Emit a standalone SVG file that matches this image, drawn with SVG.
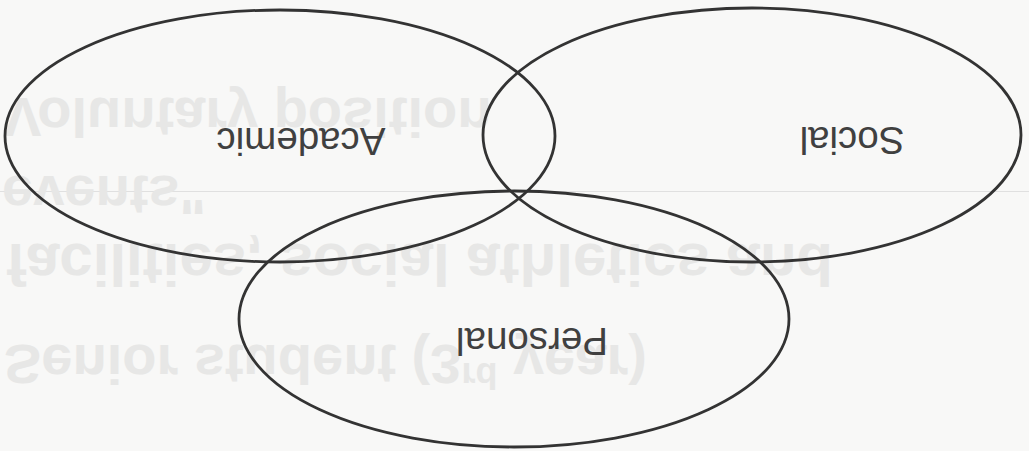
<svg xmlns="http://www.w3.org/2000/svg" width="1029" height="451" viewBox="0 0 1029 451">
  <style>
    .ring { fill: none; stroke: #333333; stroke-width: 2.8; }
    .label { font-family: "Liberation Sans", Arial, sans-serif; font-size: 38.5px; fill: #404040; text-anchor: middle; }
    .ghost { font-family: "Liberation Sans", Arial, sans-serif; font-weight: bold; fill: #e7e7e6; }
  </style>
  <rect x="0" y="0" width="1029" height="451" fill="#f8f8f7"/>
  <!-- faint show-through from the reverse of the page -->
  <g id="bleed-through">
    <line x1="0" y1="191.5" x2="1029" y2="191.5" stroke="#e0e0e0" stroke-width="1.2"/>
    <text class="ghost" font-size="56" x="4" y="98" transform="matrix(1 0 0 -1 0 196)">Voluntary position</text>
    <text class="ghost" font-size="56" x="2" y="176" transform="matrix(1 0 0 -1 0 352)">events"</text>
    <text class="ghost" font-size="60" x="6" y="244" transform="matrix(1 0 0 -1 0 488)">facilities, social athletics and</text>
    <text class="ghost" font-size="56" x="4" y="345" transform="matrix(1 0 0 -1 0 690)">Senior student (3<tspan font-size="36" dy="-18">rd</tspan><tspan dy="18"> year)</tspan></text>
  </g>
  <g id="academic">
    <ellipse class="ring" cx="280" cy="136" rx="275" ry="126"/>
    <text class="label" x="301" y="128" transform="rotate(180 301 128)">Academic</text>
  </g>
  <g id="social">
    <ellipse class="ring" cx="752" cy="135" rx="269" ry="127"/>
    <text class="label" x="852" y="127" transform="rotate(180 852 127)">Social</text>
  </g>
  <g id="personal">
    <ellipse class="ring" cx="514" cy="319" rx="275" ry="128"/>
    <text class="label" x="532" y="328" transform="rotate(180 532 328)">Personal</text>
  </g>
  <g id="connectors"/>
</svg>
